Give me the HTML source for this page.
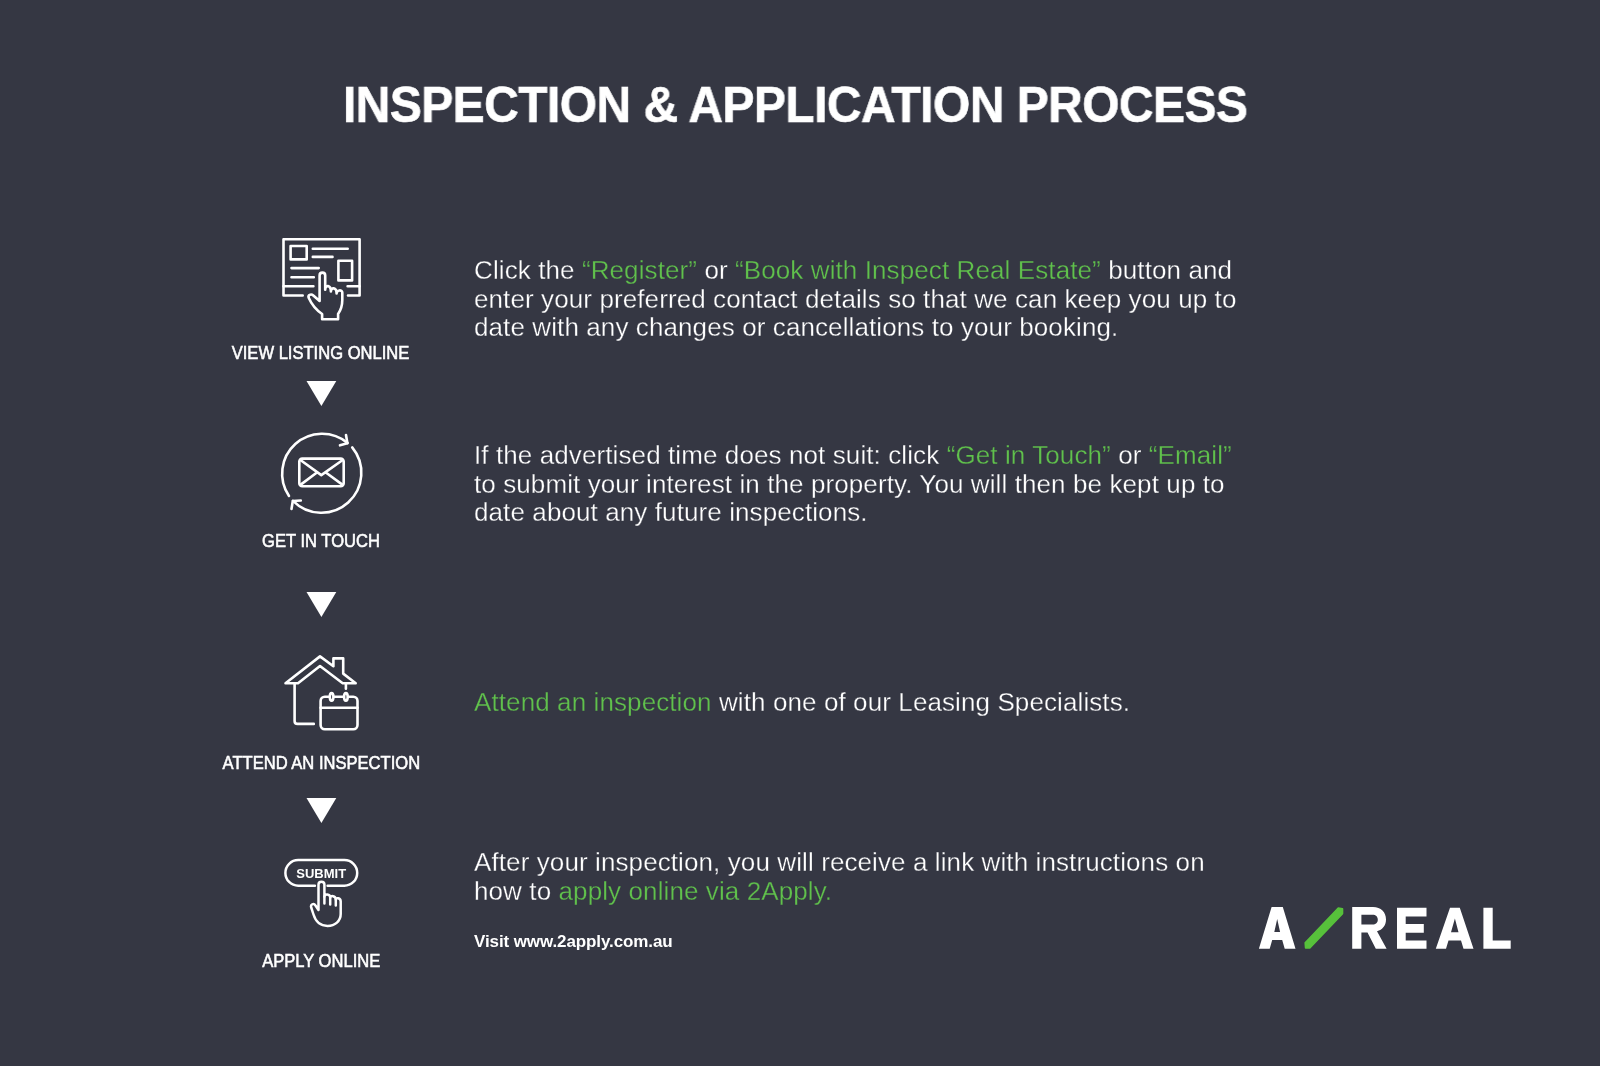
<!DOCTYPE html>
<html>
<head>
<meta charset="utf-8">
<style>
html,body{margin:0;padding:0;}
body{width:1600px;height:1066px;background:#353743;position:relative;overflow:hidden;font-family:"Liberation Sans",sans-serif;color:#fff;}
.t{position:absolute;white-space:nowrap;will-change:transform;}
.title{left:343px;top:77px;font-size:50px;line-height:56px;font-weight:bold;letter-spacing:-0.6px;-webkit-text-stroke:0.6px #fff;transform:scaleX(0.96);transform-origin:0 0;}
.body{left:474px;font-size:26px;line-height:28.5px;letter-spacing:0.1px;-webkit-text-stroke:0.3px #353743;}
.g{color:#60c14c;}
.lab{font-size:18px;line-height:20px;font-weight:normal;-webkit-text-stroke:0.55px #fff;left:121px;width:400px;text-align:center;}
.lab span{display:inline-block;transform:scaleX(0.92);transform-origin:50% 50%;}
.visit{left:474px;top:932px;font-size:17px;line-height:20px;font-weight:bold;letter-spacing:-0.1px;}
svg{position:absolute;left:0;top:0;will-change:transform;}
</style>
</head>
<body>
<div class="t title">INSPECTION &amp; APPLICATION PROCESS</div>

<div class="t body" style="top:255.5px">Click the <span class="g">“Register”</span> or <span class="g">“Book with Inspect Real Estate”</span> button and<br>enter your preferred contact details so that we can keep you up to<br>date with any changes or cancellations to your booking.</div>

<div class="t body" style="top:441.1px">If the advertised time does not suit: click <span class="g">“Get in Touch”</span> or <span class="g">“Email”</span><br>to submit your interest in the property. You will then be kept up to<br>date about any future inspections.</div>

<div class="t body" style="top:687.7px"><span class="g">Attend an inspection</span> with one of our Leasing Specialists.</div>

<div class="t body" style="top:847.7px">After your inspection, you will receive a link with instructions on<br>how to <span class="g">apply online via 2Apply.</span></div>

<div class="t visit">Visit www.2apply.com.au</div>

<div class="t lab" style="top:342.7px"><span>VIEW LISTING ONLINE</span></div>
<div class="t lab" style="top:531.3px"><span>GET IN TOUCH</span></div>
<div class="t lab" style="top:752.8px"><span>ATTEND AN INSPECTION</span></div>
<div class="t lab" style="top:951px"><span>APPLY ONLINE</span></div>

<svg width="1600" height="1066" viewBox="0 0 1600 1066">
<!-- triangles -->
<g fill="#fff">
<polygon points="306.5,381 336.3,381 321.4,406"/>
<polygon points="306.5,592 336.3,592 321.4,617"/>
<polygon points="306.5,798 336.3,798 321.4,823"/>
</g>
<g fill="none" stroke="#fff" stroke-width="2.6" stroke-linecap="round" stroke-linejoin="round">
<!-- icon 1 listing -->
<path d="M302.7 295.5 H283.5 V239.2 H359.6 V295.5 H348"/>
<path d="M283.5 286.3 H313.4 M347.6 286.3 H359.6"/>
<rect x="290.6" y="246" width="16.1" height="13.4"/>
<rect x="338.4" y="260.7" width="13.7" height="19.7"/>
<path d="M312.8 248.7 H347.7 M312.8 256.9 H332.5 M291.5 268.1 H318.7 M291.5 277.2 H313.8"/>
<path d="M322.1 319.2 L338.1 319.2 L338.1 314 C340.5 310.5 342.3 306 342.3 300 L342.3 292.5 C342.3 289.6 336.6 289.6 336.6 293.4 C336.6 287 330.9 287 330.9 291.5 C330.9 284.6 325.2 284.6 325.2 289.8 L325.2 275.5 C325.2 271.7 319.6 271.7 319.6 275.5 L319.6 301 L313.3 295.5 C311 293.5 307.5 295 308.8 298 C311.5 304 315.5 309.5 322.1 314 Z"/>

<!-- icon 2 envelope -->
<path d="M289 496 A39.9 39.9 0 0 1 347.6 443"/>
<path d="M346 435 L347.4 443.3 L340 445.3"/>
<path d="M352.2 447.4 A39.9 39.9 0 0 1 293 500.8"/>
<path d="M291.5 509 L292.8 501 L300.8 500.5"/>
<rect x="299.3" y="458.6" width="44.4" height="27.7" rx="3"/>
<path d="M300.4 460 L321.3 475.1 L342.7 460 M300.4 484.9 L316.9 472.5 M342.7 484.9 L325.8 472.5"/>

<!-- icon 3 house -->
<path d="M285.5 683.3 L320 656.4 L333.4 666.2 L333.4 658.4 L343.2 658.4 L343.2 673.6 L355.7 683.3 L342.7 683.3 L320 666 L298 683.3 Z"/>
<path d="M294.6 683.5 V720.9 Q294.6 723.9 297.6 723.9 H313.8"/>
<path d="M345.9 683.5 V688.7"/>
<rect x="320.6" y="696.7" width="36.9" height="32.6" rx="4.2"/>
<path d="M320.6 707.8 H357.5"/>
<ellipse cx="331.6" cy="696.9" rx="1.8" ry="3.8" fill="#353743"/>
<ellipse cx="345.9" cy="696.9" rx="1.8" ry="3.8" fill="#353743"/>

<!-- icon 4 submit -->
<path d="M314.9 885.7 H298.2 A12.8 12.8 0 0 1 298.2 860.1 H344.4 A12.8 12.8 0 0 1 344.4 885.7 H327.6" stroke-width="2.5"/>
<path d="M318.5 910 L318.5 884.5 C318.5 880.8 324.4 880.8 324.4 884.5 L324.4 896.5 C324.4 893.6 330.2 893.6 330.2 897.5 C330.2 895.3 335.8 895.5 335.8 899.5 C335.8 897.5 340.7 897.5 340.7 901.5 L340.7 914 C340.7 921 335 925.9 327.5 925.9 C320 925.9 315.5 921 313.5 914.5 L311.2 907.5 C310.3 904.5 313.6 902.5 315.5 905.5 Z" stroke-width="2.5"/>
<path d="M324.4 896.5 V903.5 M330.2 897.5 V904.5 M335.8 899.5 V905.5" stroke-width="2.5"/>
</g>
<text x="321.2" y="877.5" text-anchor="middle" font-family="Liberation Sans" font-weight="bold" font-size="13" fill="#fff">SUBMIT</text>

<!-- logo -->
<g fill="#fff">
<!-- A -->
<path d="M1258.9 948.7 L1271.6 907 H1282.8 L1295.5 948.7 H1284.7 L1282.2 940 H1272.2 L1269.7 948.7 Z M1274.3 932 H1280.1 L1277.2 919 Z" fill-rule="evenodd"/>
<!-- R -->
<path d="M1352.2 907 H1373 C1381 907 1386 912 1386 919.5 C1386 925.5 1382.5 929.8 1377 931.3 L1386.6 948.7 H1375.8 L1367.5 932.5 H1361.4 V948.7 H1352.2 Z M1361.4 914.8 V924.6 H1372.5 C1375.8 924.6 1377.8 922.6 1377.8 919.7 C1377.8 916.8 1375.8 914.8 1372.5 914.8 Z" fill-rule="evenodd"/>
<!-- E -->
<path d="M1397 907.7 H1426.5 V916.4 H1405.7 V924 H1423.8 V932.8 H1405.7 V940.5 H1426.5 V948.7 H1397 Z"/>
<!-- A -->
<path d="M1435.8 948.7 L1450 907.7 H1459.8 L1473.5 948.7 H1463.5 L1461 940.5 H1448.5 L1446 948.7 Z M1451 932.3 H1458.5 L1454.9 918.6 Z" fill-rule="evenodd"/>
<!-- L -->
<path d="M1483.4 907.7 H1492.7 V940.5 H1510.7 V948.7 H1483.4 Z"/>
</g>
<polygon points="1305.2,942.9 1338.3,908.1 1342.5,908.9 1342.5,913.6 1309.8,947.9 1305.6,947.9" fill="#57c13b" stroke="#57c13b" stroke-width="1.6" stroke-linejoin="round"/>
</svg>
</body>
</html>
